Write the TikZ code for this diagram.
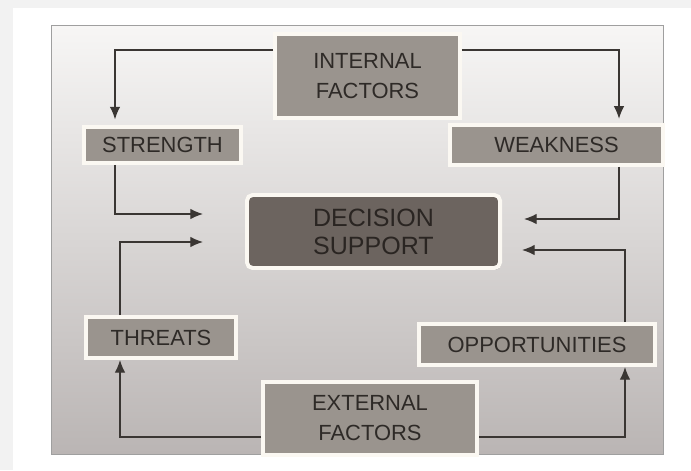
\documentclass[tikz,border=0pt]{standalone}
\usepackage{fontspec}
\setmainfont{Liberation Sans}
\usetikzlibrary{arrows.meta,shadows}

\definecolor{boxgrey}{HTML}{9A948E}
\definecolor{deepgrey}{HTML}{6C645F}
\definecolor{inkgrey}{HTML}{2E2A27}
\definecolor{coreink}{HTML}{2A2522}
\definecolor{rim}{HTML}{FBF8F2}
\definecolor{linegrey}{HTML}{3A3633}
\definecolor{paneltop}{HTML}{F7F6F5}
\definecolor{panelfoot}{HTML}{BAB5B4}

\begin{document}
\begin{tikzpicture}
  [
    x               = 0.025cm,
    y               = -0.025cm,
    factor/.style   = {draw=rim, line width=2.8pt, fill=boxgrey, text=inkgrey,
                       align=center, inner sep=0pt,
                       font=\fontsize{15.6}{21.3}\selectfont,
                       drop shadow={shadow xshift=0.8pt, shadow yshift=-1.2pt,
                                    fill=black!60, opacity=0.7}},
    core/.style     = {factor, fill=deepgrey, rounded corners=4pt, text=coreink,
                       font=\fontsize{17.8}{19.9}\selectfont},
    link/.style     = {draw=linegrey, line width=0.9pt,
                       -{Latex[length=9pt,width=7.5pt]}}
  ]
  \useasboundingbox (0,0) rectangle (691,470);

  % page and panel
  \fill[gray!10] (0,0) rectangle (691,470);
  \fill[white] (13,8) rectangle (691,470);
  \draw[gray!75, line width=0.6pt, top color=paneltop, bottom color=panelfoot]
    (51,25) rectangle (663,454);

  % factors
  \node[factor, minimum width=4.625cm, minimum height=2.1cm]
    (intf) at (367.5,76) {INTERNAL\\FACTORS};
  \node[factor, minimum width=3.925cm, minimum height=0.9cm]
    (strength) at (162.5,145) {STRENGTH};
  \node[factor, minimum width=5.325cm, minimum height=1.0cm]
    (weakness) at (556.5,145) {WEAKNESS};
  \node[core, minimum width=6.325cm, minimum height=1.825cm]
    (decision) at (373.5,231.5) {DECISION\\SUPPORT};
  \node[factor, minimum width=3.75cm, minimum height=1.025cm]
    (threats) at (161,337.5) {THREATS};
  \node[factor, minimum width=5.9cm, minimum height=1.025cm]
    (opport) at (537,344.5) {OPPORTUNITIES};
  \node[factor, minimum width=5.35cm, minimum height=1.825cm]
    (extf) at (370,418.5) {EXTERNAL\\FACTORS};

  % arrow ends next to the decision box
  \coordinate (sIn) at (203,214);
  \coordinate (tIn) at (203,242);
  \coordinate (wIn) at (524,219);
  \coordinate (oIn) at (522,250);

  % connectors
  \draw[link, shorten >=4pt] (intf.west |- 0,50) -| (strength.north -| 115,0);
  \draw[link, shorten >=3pt] (intf.east |- 0,50) -| (weakness.north -| 619,0);
  \draw[link] (strength.south -| 115,0) |- (sIn);
  \draw[link] (threats.north -| 120,0) |- (tIn);
  \draw[link] (weakness.south -| 619,0) |- (wIn);
  \draw[link] (opport.north -| 625,0) |- (oIn);
  \draw[link] (extf.west |- 0,437) -| (threats.south -| 120,0);
  \draw[link] (extf.east |- 0,437) -| (opport.south -| 625,0);
\end{tikzpicture}
\end{document}
